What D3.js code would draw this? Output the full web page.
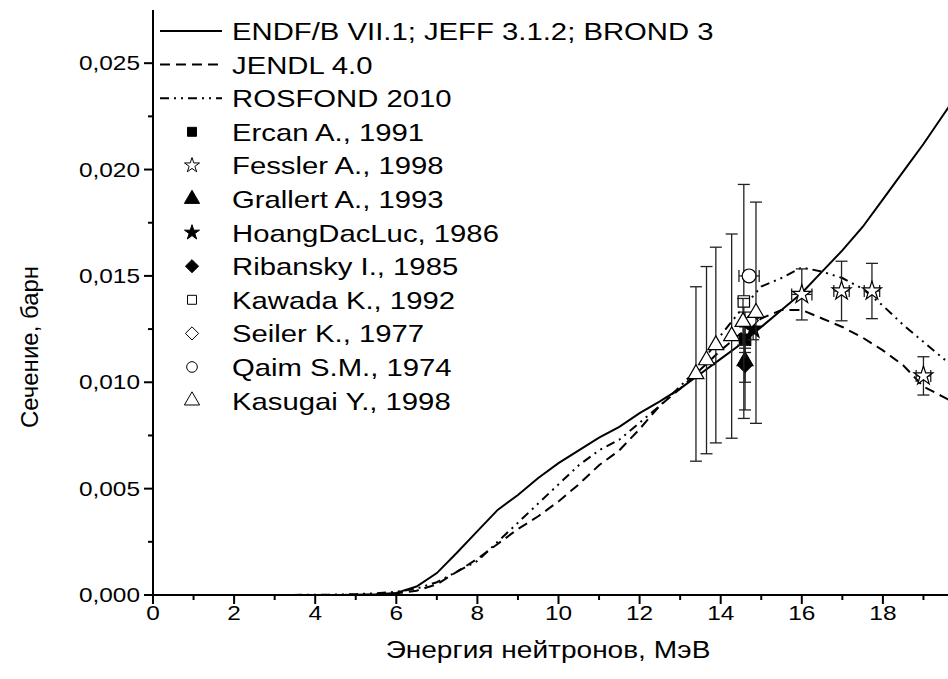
<!DOCTYPE html>
<html>
<head>
<meta charset="utf-8">
<script src="https://cdn.jsdelivr.net/npm/d3@7"></script>
<style>
  body { margin: 0; background: #fff; }
  svg { font-family: "Liberation Sans", Arial, sans-serif; }
</style>
</head>
<body>
<svg id="chart" width="948" height="679"></svg>
<script>
// evaluated curves
var energy = [0, 1, 2, 3, 4, 4.5, 5, 5.5, 6, 6.5, 7, 7.5, 8, 8.5, 9, 9.5, 10, 10.5, 11, 11.5, 12, 12.5, 13, 13.5, 14, 14.5, 15, 15.5, 16, 16.5, 17, 17.5, 18, 18.5, 19, 19.5, 20];
var endf = [0, 0, 0, 0, 0, 0, 0.00001, 0.00003, 0.0001, 0.0004, 0.00103, 0.002, 0.003, 0.004, 0.0047, 0.0055, 0.0062, 0.0068, 0.0074, 0.0079, 0.00855, 0.0091, 0.0097, 0.0104, 0.0111, 0.0118, 0.0126, 0.0134, 0.0142, 0.0152, 0.0162, 0.0173, 0.0186, 0.0199, 0.0212, 0.0226, 0.024];
var jendl = [0, 0, 0, 0, 0, 0, 0, 0.00002, 0.00008, 0.0002, 0.0005, 0.0011, 0.0017, 0.0024, 0.0031, 0.0037, 0.0044, 0.0052, 0.0061, 0.0068, 0.0078, 0.0089, 0.0097, 0.0106, 0.0115, 0.0123, 0.013, 0.0134, 0.0134, 0.013, 0.0126, 0.0121, 0.0115, 0.0108, 0.0098, 0.0093, 0.0088];
var rosfond = [0, 0, 0, 0, 0.00001, 0.00002, 0.00004, 0.00008, 0.00015, 0.0003, 0.0006, 0.0011, 0.0016, 0.0025, 0.0034, 0.0043, 0.0052, 0.0061, 0.0068, 0.0073, 0.0081, 0.0089, 0.0098, 0.0108, 0.0122, 0.0134, 0.0145, 0.0149, 0.0154, 0.0152, 0.0149, 0.0144, 0.0136, 0.0127, 0.0119, 0.0111, 0.0104];

// experiments: [E, sigma, dE, dSigma]
var ercan = [[14.6, 0.0120, 0, 0.0006]];
var fessler = [[16.0, 0.01413, 0.25, 0.0012], [16.98, 0.01429, 0.19, 0.0014], [17.73, 0.01429, 0.19, 0.0013], [19.0, 0.0103, 0.18, 0.0009]];
var grallert = [[14.6, 0.0110, 0, 0.0023]];
var hoang = [[14.8, 0.0125, 0, 0.0005]];
var ribansky = [[14.6, 0.0108, 0, 0.0008]];
var kawada = [[14.57, 0.0138, 0, 0.0055]];
var seiler = [[14.75, 0.0129, 0, 0]];
var qaim = [[14.7, 0.0150, 0.25, 0]];
var kasugai = [[13.39, 0.01039, 0, 0.0041], [13.65, 0.01104, 0, 0.0044], [13.88, 0.01175, 0, 0.0046], [14.27, 0.01217, 0, 0.0048], [14.55, 0.01284, 0, 0.0011], [14.87, 0.01327, 0, 0.0052]];

var xTicks = [0, 2, 4, 6, 8, 10, 12, 14, 16, 18];
var yTicks = [0, 0.005, 0.01, 0.015, 0.02, 0.025];

var svg = d3.select('#chart');
var x = d3.scaleLinear().domain([0, 20]).range([153, 964]);
var y = d3.scaleLinear().domain([0, 0.0275]).range([595, 10]);

// the original picture is a bit wider than tall, so the text is stretched sideways
var SX = 1.22;
function label(g, tx, ty, size, txt, anchor) {
  return g.append('text')
    .attr('transform', 'translate(' + tx + ',' + ty + ') scale(' + SX + ',1)')
    .attr('font-size', size).attr('text-anchor', anchor || 'start').text(txt);
}

var curves = [
  {name: 'ENDF/B VII.1; JEFF 3.1.2; BROND 3', vals: endf, dash: null},
  {name: 'JENDL 4.0', vals: jendl, dash: '10,6'},
  {name: 'ROSFOND 2010', vals: rosfond, dash: '9,5,2,5,2,5'}
];

var sets = [
  {name: 'Ercan A., 1991', pts: ercan, sym: d3.symbolSquare, size: 130, fill: '#000', ls: 80},
  {name: 'Fessler A., 1998', pts: fessler, sym: d3.symbolStar, size: 110, fill: '#fff', ls: 70},
  {name: 'Grallert A., 1993', pts: grallert, sym: d3.symbolTriangle, size: 110, fill: '#000', ls: 100},
  {name: 'HoangDacLuc, 1986', pts: hoang, sym: d3.symbolStar, size: 110, fill: '#000', ls: 70},
  {name: 'Ribansky I., 1985', pts: ribansky, sym: d3.symbolDiamond2, size: 130, fill: '#000', ls: 110},
  {name: 'Kawada K., 1992', pts: kawada, sym: d3.symbolSquare, size: 130, fill: '#fff', ls: 80},
  {name: 'Seiler K., 1977', pts: seiler, sym: d3.symbolDiamond2, size: 130, fill: '#fff', ls: 110},
  {name: 'Qaim S.M., 1974', pts: qaim, sym: d3.symbolCircle, size: 150, fill: '#fff', ls: 90},
  {name: 'Kasugai Y., 1998', pts: kasugai, sym: d3.symbolTriangle, size: 110, fill: '#fff', ls: 100}
];

// axes
var xAxis = svg.append('g').attr('transform', 'translate(0,595)');
xAxis.append('line').attr('x1', 153).attr('x2', 948).attr('stroke', '#000').attr('stroke-width', 2);
xAxis.selectAll('.maj').data(xTicks).enter().append('line')
  .attr('x1', d => x(d)).attr('x2', d => x(d)).attr('y1', 0).attr('y2', 9)
  .attr('stroke', '#000').attr('stroke-width', 2);
xAxis.selectAll('.min').data(d3.range(1, 20, 2)).enter().append('line')
  .attr('x1', d => x(d)).attr('x2', d => x(d)).attr('y1', 0).attr('y2', 5)
  .attr('stroke', '#000').attr('stroke-width', 2);
xTicks.forEach(d => label(xAxis, x(d), 25, 20, d, 'middle'));

var fmt = d3.format('.3f');
var yAxis = svg.append('g');
yAxis.append('line').attr('x1', 153).attr('x2', 153).attr('y1', y(0.0275)).attr('y2', 596)
  .attr('stroke', '#000').attr('stroke-width', 2);
yAxis.selectAll('.maj').data(yTicks).enter().append('line')
  .attr('x1', 144).attr('x2', 153).attr('y1', d => y(d)).attr('y2', d => y(d))
  .attr('stroke', '#000').attr('stroke-width', 2);
yAxis.selectAll('.min').data(d3.range(0.0025, 0.027, 0.005)).enter().append('line')
  .attr('x1', 148).attr('x2', 153).attr('y1', d => y(d)).attr('y2', d => y(d))
  .attr('stroke', '#000').attr('stroke-width', 2);
yTicks.forEach(d => label(yAxis, 140, y(d) + 7, 20, fmt(d).replace('.', ','), 'end'));

label(svg, 548, 658, 23, 'Энергия нейтронов, МэВ', 'middle');
svg.append('text').attr('transform', 'translate(38,347) rotate(-90)').attr('text-anchor', 'middle')
  .attr('font-size', 24).text('Сечение, барн');

// curves
var line = d3.line().x((d, i) => x(energy[i])).y(d => y(d));
svg.append('defs').append('clipPath').attr('id', 'clip')
  .append('rect').attr('x', 153).attr('y', 0).attr('width', 800).attr('height', 595);
curves.forEach(c => {
  svg.append('path').datum(c.vals).attr('d', line).attr('clip-path', 'url(#clip)')
    .attr('fill', 'none').attr('stroke', '#000').attr('stroke-width', 2)
    .attr('stroke-dasharray', c.dash);
});

// error bars + markers
sets.forEach(s => {
  var g = svg.append('g');
  s.pts.forEach(p => {
    var cx = x(p[0]), cy = y(p[1]);
    if (p[3] > 0) {
      var y1 = y(p[1] + p[3]), y2 = y(p[1] - p[3]);
      g.append('line').attr('x1', cx).attr('x2', cx).attr('y1', y1).attr('y2', y2).attr('stroke', '#222').attr('stroke-width', 1.3);
      [y1, y2].forEach(yy => g.append('line').attr('x1', cx - 6).attr('x2', cx + 6).attr('y1', yy).attr('y2', yy).attr('stroke', '#222').attr('stroke-width', 1.3));
    }
    if (p[2] > 0) {
      var x1 = x(p[0] - p[2]), x2 = x(p[0] + p[2]);
      g.append('line').attr('x1', x1).attr('x2', x2).attr('y1', cy).attr('y2', cy).attr('stroke', '#222').attr('stroke-width', 1.3);
      [x1, x2].forEach(xx => g.append('line').attr('x1', xx).attr('x2', xx).attr('y1', cy - 6).attr('y2', cy + 6).attr('stroke', '#222').attr('stroke-width', 1.3));
    }
  });
  g.selectAll('path').data(s.pts).enter().append('path')
    .attr('d', d3.symbol().type(s.sym).size(s.size))
    .attr('transform', d => 'translate(' + x(d[0]) + ',' + y(d[1]) + ')')
    .attr('fill', s.fill).attr('stroke', '#000').attr('stroke-width', 1.2);
});

// legend
var rowY = i => 31 + 33.6 * i;
var leg = svg.append('g');
curves.forEach((c, i) => {
  leg.append('line').attr('x1', 160).attr('x2', 222).attr('y1', rowY(i)).attr('y2', rowY(i))
    .attr('stroke', '#000').attr('stroke-width', 2).attr('stroke-dasharray', c.dash);
  label(leg, 232, rowY(i) + 9, 24, c.name);
});
sets.forEach((s, j) => {
  var i = j + 3;
  leg.append('path').attr('d', d3.symbol().type(s.sym).size(s.ls))
    .attr('transform', 'translate(192,' + rowY(i) + ')')
    .attr('fill', s.fill).attr('stroke', '#000').attr('stroke-width', 1);
  label(leg, 232, rowY(i) + 9, 24, s.name);
});
</script>
</body>
</html>
